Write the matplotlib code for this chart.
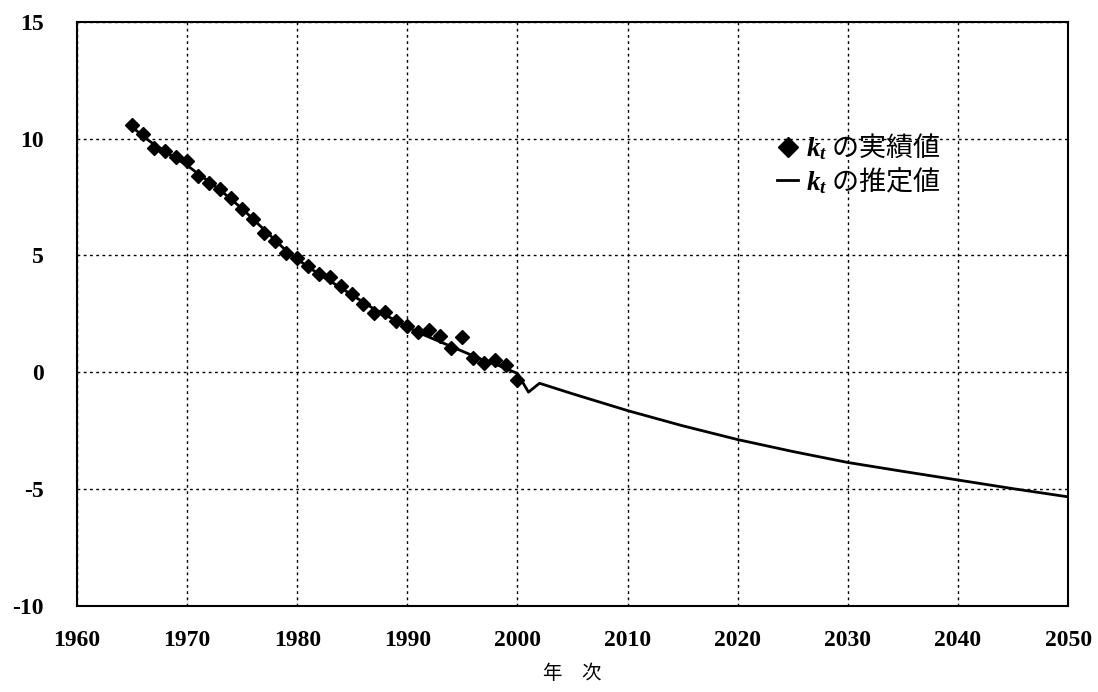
import numpy as np
import matplotlib
matplotlib.use("Agg")
from matplotlib import pyplot as plt
from matplotlib.lines import Line2D

plt.rcParams['axes.unicode_minus'] = False
plt.rcParams['mathtext.fontset'] = 'custom'
plt.rcParams['mathtext.it'] = 'Liberation Serif:italic:bold'
plt.rcParams['mathtext.rm'] = 'Liberation Serif:bold'

# observed k_t (実績値)
obs_years = list(range(1965, 2001))
obs_vals = [10.6, 10.2, 9.6, 9.45, 9.2, 9.02, 8.4, 8.1, 7.85, 7.45,
            6.97, 6.54, 5.97, 5.62, 5.12, 4.91, 4.55, 4.2, 4.06, 3.7,
            3.35, 2.92, 2.52, 2.6, 2.21, 2.0, 1.72, 1.82, 1.57, 1.05,
            1.53, 0.61, 0.4, 0.51, 0.3, -0.31]

# estimated k_t (推定値)
est_years = list(range(1965, 2003)) + [2005, 2010, 2015, 2020, 2025, 2030, 2035, 2040, 2045, 2050]
est_vals = [10.5, 10.1, 9.75, 9.45, 9.15, 8.85, 8.5, 8.15, 7.8, 7.4,
            7.0, 6.55, 6.1, 5.65, 5.2, 4.85, 4.5, 4.2, 3.9, 3.6,
            3.3, 3.0, 2.7, 2.45, 2.2, 1.95, 1.7, 1.5, 1.3, 1.1,
            0.9, 0.7, 0.5, 0.35, 0.15, -0.05, -0.85, -0.47,
            -0.92, -1.64, -2.29, -2.88, -3.39, -3.86, -4.24, -4.61, -4.98, -5.33]

x_ticks = list(range(1960, 2051, 10))
y_ticks = [-10, -5, 0, 5, 10, 15]

fig = plt.figure(figsize=(10.98, 6.92), dpi=100)
ax = fig.add_axes([0.0701, 0.1243, 0.9027, 0.8443])

ax.plot(est_years, est_vals, color='black', lw=2.0, zorder=3)
ax.plot(obs_years, obs_vals, 'D', color='black', ms=7.5, zorder=4)

ax.set_xlim(1960, 2050)
ax.set_ylim(-10, 15)
ax.set_xticks(x_ticks)
ax.set_yticks(y_ticks)
ax.set_xticklabels([str(v) for v in x_ticks], family='Liberation Serif', weight='bold', fontsize=17)
ax.set_yticklabels([str(v) for v in y_ticks], family='Liberation Serif', weight='bold', fontsize=17)
ax.tick_params(axis='x', direction='in', length=0, pad=17)
ax.tick_params(axis='y', direction='in', length=0, pad=24)

ax.grid(True, color='black', linestyle=(0, (2, 2.5)), lw=1.0)
for s in ax.spines.values():
    s.set_linewidth(1.5)
    s.set_color('black')

ax.set_xlabel('年　次', family=['Noto Sans CJK JP', 'DejaVu Sans'], fontsize=14, labelpad=9)

handles = [Line2D([], [], marker='D', color='black', linestyle='none', ms=10),
           Line2D([], [], color='black', lw=2.0)]
labels = ['$k_t$ の実績値', '$k_t$ の推定値']
ax.legend(handles, labels, loc='upper left', bbox_to_anchor=(0.693, 0.835),
          frameon=False, borderpad=0, handlelength=0.75, handletextpad=0.3,
          labelspacing=0.05, prop={'family': ['Noto Sans CJK JP', 'DejaVu Sans'], 'size': 19.5})

fig.savefig('out.png', dpi=100)
